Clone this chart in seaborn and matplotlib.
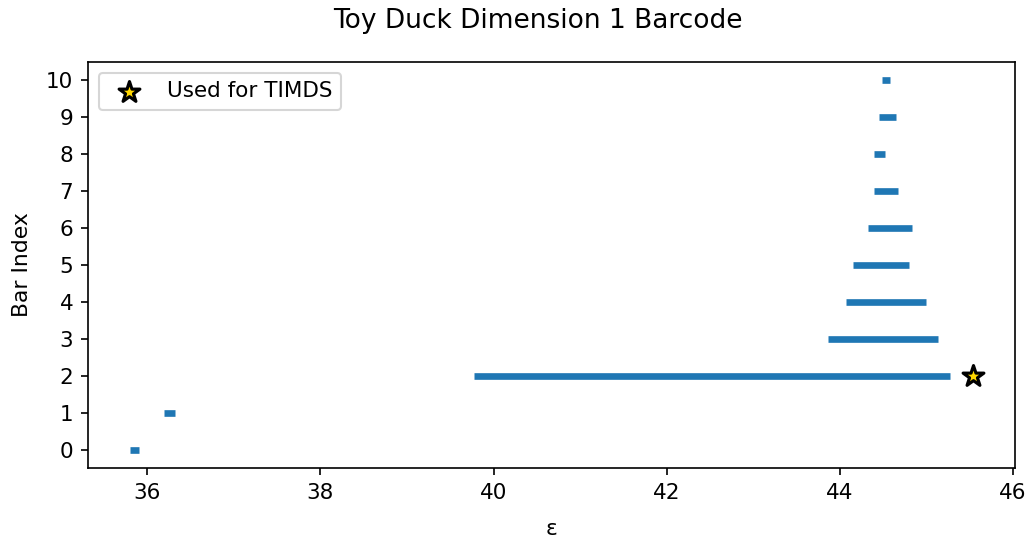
import numpy as np
import pandas as pd
import matplotlib
matplotlib.use("Agg")
import matplotlib.pyplot as plt
import seaborn as sns

# Persistence intervals (birth, death) for the dimension-1 barcode
bar_index = list(range(11))
births = [35.80, 36.19, 39.77, 43.87, 44.07, 44.15, 44.33, 44.40, 44.40, 44.45, 44.485]
deaths = [35.90, 36.32, 45.28, 45.14, 45.00, 44.80, 44.84, 44.67, 44.53, 44.65, 44.577]

# Bar selected for TIMDS
star_x = [45.54]
star_y = [2]

rows = []
for i, b, d in zip(bar_index, births, deaths):
    rows.append({"eps": b, "idx": i, "bar": i})
    rows.append({"eps": d, "idx": i, "bar": i})
df = pd.DataFrame(rows)

fig, ax = plt.subplots(figsize=(1034 / 150, 542 / 150), dpi=150)
fig.subplots_adjust(left=0.0851, right=0.9816, top=0.8856, bottom=0.1365)

sns.lineplot(data=df, x="eps", y="idx", units="bar", estimator=None, sort=False,
             color="#1f77b4", linewidth=3.2, solid_capstyle="butt", ax=ax, legend=False)
sns.scatterplot(x=star_x, y=star_y, marker="*", s=110, color="gold",
                edgecolor="black", linewidth=1.5, zorder=5, label="Used for TIMDS", ax=ax)

ax.set_yticks(bar_index)
ax.tick_params(labelsize=10.3)
ax.set_xlabel("ε", fontsize=10.5, labelpad=8)
ax.set_ylabel("Bar Index", fontsize=10.5, labelpad=7)
fig.suptitle("Toy Duck Dimension 1 Barcode", x=0.52, y=1 - 8 / 542, va="top", fontsize=12.7)
ax.legend(loc="upper left", fontsize=10.3)

fig.savefig("out.png", dpi=150)
